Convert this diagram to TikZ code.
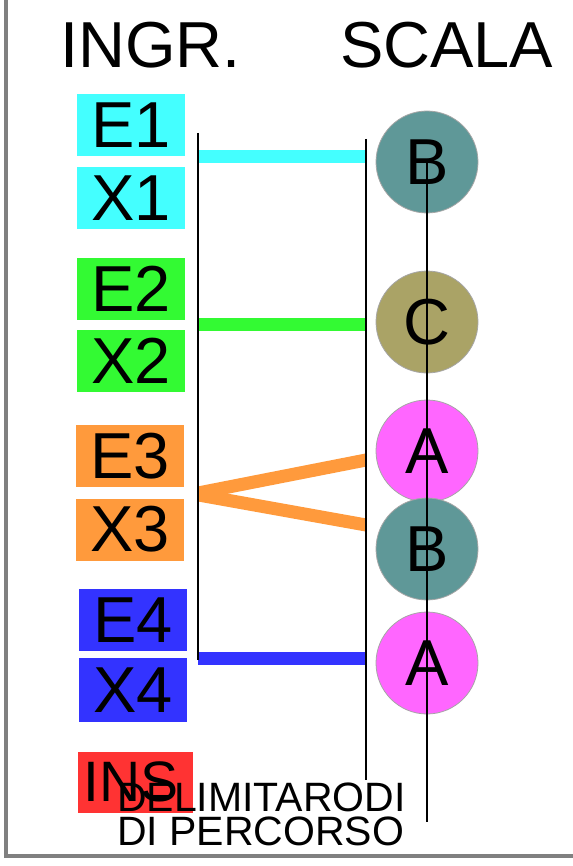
\documentclass[tikz,border=0pt]{standalone}
\usepackage{fontspec}
\setmainfont{Liberation Sans}
\definecolor{ccyan}{RGB}{68,255,255}
\definecolor{cgreen}{RGB}{51,250,51}
\definecolor{corange}{RGB}{255,154,60}
\definecolor{cblue}{RGB}{51,51,255}
\definecolor{cred}{RGB}{255,51,51}
\definecolor{cteal}{RGB}{95,152,152}
\definecolor{colive}{RGB}{170,163,102}
\definecolor{cmag}{RGB}{255,102,255}
\definecolor{cframe}{RGB}{128,128,128}
\begin{document}
\begin{tikzpicture}[x=1pt,y=-1pt,
  box/.style={rectangle, inner sep=0pt, minimum width=108pt, minimum height=62pt, text=black, font=\fontsize{65}{65}\selectfont},
  ball/.style={circle, inner sep=0pt, minimum size=102pt, draw=black!35, line width=0.8pt, text=black, font=\fontsize{65}{65}\selectfont},
  title/.style={anchor=base west, inner sep=0pt, font=\fontsize{65}{65}\selectfont},
  bar/.style={draw=black, line width=1.3pt},
  link/.style={line width=13pt, line cap=butt}]
\useasboundingbox (0,0) rectangle (572,866);
% frame
\draw[cframe, line width=4.5pt] (6,-30) -- (6,856) -- (600,856);
% titles
\node[title] (t1) at (60,68) {INGR.};
\node[title] (t2) at (340,68) {SCALA};
% boxes
\node[box, fill=ccyan] (e1) at (131,125.5) {E1};
\node[box, fill=ccyan] (x1) at (131,198) {X1};
\node[box, fill=cgreen] (e2) at (131,289) {E2};
\node[box, fill=cgreen] (x2) at (131,360.5) {X2};
\node[box, fill=corange] (e3) at (130,456) {E3};
\node[box, fill=corange] (x3) at (130,529.5) {X3};
\node[box, fill=cblue] (e4) at (133,620) {E4};
\node[box, fill=cblue, minimum height=64pt] (x4) at (133,690) {X4};
\node[rectangle, fill=cred, inner sep=0pt, minimum width=115pt, minimum height=61pt] (insbox) at (135.5,782.5) {};
\node[anchor=base west, inner sep=0pt, font=\fontsize{57}{57}\selectfont] (ins) at (83,801) {INS};
% bar coordinates
\coordinate (la) at (198,133);
\coordinate (lb) at (198,660);
\coordinate (ra) at (366,139);
\coordinate (rb) at (366,780);
\coordinate (ca) at (427,163);
\coordinate (cb) at (427,822);
\coordinate (l1) at (198,157);
\coordinate (r1) at (366,157);
\coordinate (l2) at (198,324);
\coordinate (r2) at (366,324);
\coordinate (l3) at (193,494);
\coordinate (r3a) at (366,460);
\coordinate (r3b) at (366,525);
\coordinate (l4) at (198,658);
\coordinate (r4) at (366,658);
% coloured connectors
\draw[link, ccyan] (l1) -- (r1);
\draw[link, cgreen] (l2) -- (r2);
\begin{scope}
\clip (198,400) rectangle (366,600);
\draw[link, corange] (l3) -- (r3a);
\draw[link, corange] (l3) -- (r3b);
\end{scope}
\draw[link, cblue] (l4) -- (r4);
% bars
\draw[bar] (la) -- (lb);
\draw[bar] (ra) -- (rb);
% circles
\node[ball, fill=cteal] (b1) at (427,162) {B};
\node[ball, fill=colive] (c1) at (427,322) {C};
\node[ball, fill=cmag] (a1) at (427,451) {A};
\node[ball, fill=cteal] (b2) at (427,549) {B};
\node[ball, fill=cmag] (a2) at (427,663) {A};
\draw[bar, line width=1.1pt] (ca) -- (cb);
% bottom label
\node[anchor=base west, inner sep=0pt, font=\fontsize{41}{41}\selectfont] (dl1) at (117,811) {DELIMITARODI};
\node[anchor=base west, inner sep=0pt, font=\fontsize{41}{41}\selectfont] (dl2) at (117,845) {DI PERCORSO};
\end{tikzpicture}
\end{document}
